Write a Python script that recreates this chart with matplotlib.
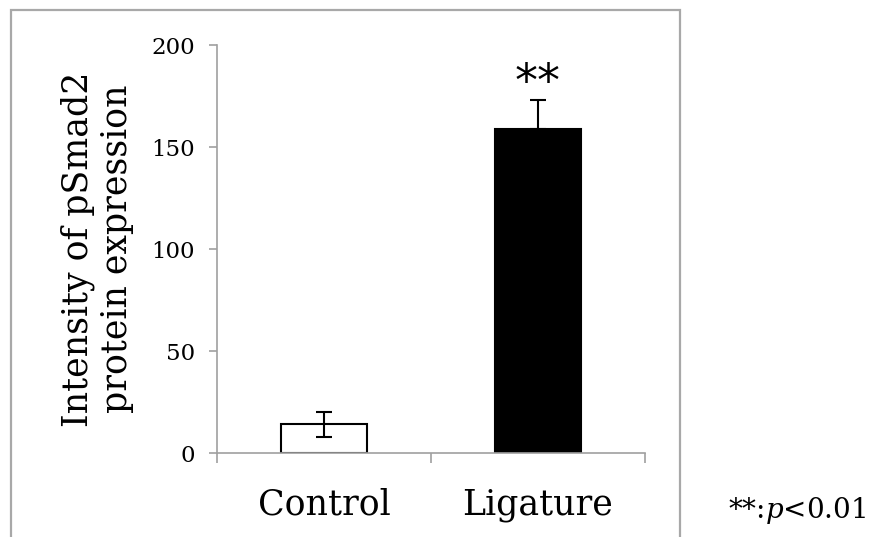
import matplotlib
matplotlib.use("Agg")
import matplotlib.pyplot as plt
from matplotlib.patches import Rectangle

categories = ["Control", "Ligature"]
means = [14, 159]
err_low = [6, 0]
err_high = [6, 14]
bar_colors = ["white", "black"]
yticks = [0, 50, 100, 150, 200]

plt.rcParams['font.family'] = ['DejaVu Serif']
plt.rcParams['mathtext.fontset'] = 'dejavuserif'

W, H = 870, 537
fig = plt.figure(figsize=(W/100, H/100), dpi=100)
ax = fig.add_axes([217/W, 1-453/H, (645-217)/W, (453-45)/H])

x = list(range(len(categories)))
ax.bar(x, means, width=0.4, color=bar_colors, edgecolor="black", linewidth=1.5, zorder=2)
ax.errorbar(x, means, yerr=[err_low, err_high], fmt='none', ecolor='black',
            elinewidth=1.5, capsize=6, capthick=1.5, zorder=3)

ax.set_xlim(-0.5, 1.5)
ax.set_ylim(0, 200)
ax.set_yticks(yticks)
ax.set_xticks(x)
ax.set_xticklabels(categories, fontsize=25)
ax.set_xticks([-0.5, 0.5, 1.5], minor=True)
ax.tick_params(axis='x', which='major', length=0, pad=25)
ax.tick_params(axis='x', which='minor', length=7.5, width=1.2, color='#a0a0a0', direction='out')
ax.tick_params(axis='y', length=6, width=1.2, color='#a0a0a0', labelsize=16.5, pad=10)
for s in ['top', 'right']:
    ax.spines[s].set_visible(False)
for s in ['left', 'bottom']:
    ax.spines[s].set_color('#a0a0a0')
    ax.spines[s].set_linewidth(1.2)

ax.set_ylabel("Intensity of pSmad2\nprotein expression", fontsize=25, linespacing=1.2, labelpad=12)

ax.text(1, 175, "**", ha='center', va='baseline',
        fontsize=33, family='DejaVu Sans')

fig.add_artist(Rectangle((11/W, -0.05), (680-11)/W, 1.05 - 10/H, transform=fig.transFigure,
                         fill=False, edgecolor='#a8a8a8', linewidth=1.6, clip_on=False))

fig.text(866/W, 1-518/H, "**:$p$<0.01", ha='right', va='baseline', fontsize=20)

fig.savefig("out.png", dpi=100)
